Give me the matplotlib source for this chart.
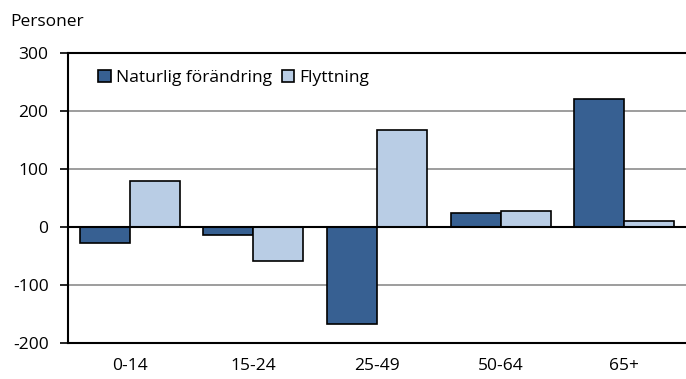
#!/usr/bin/env python3
"""Befolkningsförändring per åldersgrupp: naturlig förändring och flyttning."""

import matplotlib
matplotlib.use("Agg")
import matplotlib.pyplot as plt
import numpy as np

AGE_GROUPS = ["0-14", "15-24", "25-49", "50-64", "65+"]
NATURAL_CHANGE = [-27, -14, -167, 25, 220]
MIGRATION = [79, -58, 168, 28, 10]
SERIES_NAMES = ["Naturlig förändring", "Flyttning"]
Y_TICKS = [-200, -100, 0, 100, 200, 300]

DARK = "#376092"
LIGHT = "#B9CDE5"

plt.rcParams["font.family"] = ["Open Sans", "DejaVu Sans"]
plt.rcParams["axes.unicode_minus"] = False

FS = 12.5

fig = plt.figure(figsize=(6.86, 3.79), dpi=100)
ax = fig.add_axes([68 / 686, 1 - 343 / 379, 618 / 686, 290 / 379])

x = np.arange(len(AGE_GROUPS))
w = 0.405
ax.bar(x - w / 2, NATURAL_CHANGE, w, color=DARK, edgecolor="black",
       linewidth=1.2, label=SERIES_NAMES[0], zorder=3)
ax.bar(x + w / 2, MIGRATION, w, color=LIGHT, edgecolor="black",
       linewidth=1.2, label=SERIES_NAMES[1], zorder=3)

ax.set_xlim(-0.5, len(AGE_GROUPS) - 0.5)
ax.set_ylim(-200, 300)
ax.set_yticks(Y_TICKS)
ax.set_xticks(x)
ax.set_xticklabels(AGE_GROUPS)
ax.tick_params(axis="x", length=0, pad=11, labelsize=FS)
ax.tick_params(axis="y", length=6, width=1.2, direction="out", pad=8,
               labelsize=FS)

for v in [-100, 100, 200]:
    ax.axhline(v, color="#8c8c8c", linewidth=1.2, zorder=1)
ax.axhline(0, color="black", linewidth=1.5, zorder=4)
ax.axhline(300, color="black", linewidth=1.5, zorder=4, clip_on=False)

for side in ["top", "right"]:
    ax.spines[side].set_visible(False)
ax.spines["left"].set_linewidth(1.5)
ax.spines["bottom"].set_linewidth(1.5)

fig.text(10 / 686, 1 - 22 / 379, "Personer", fontsize=FS, va="center")

ax.legend(loc="upper left", bbox_to_anchor=(0.038, 0.965), ncol=2,
          frameon=False, fontsize=FS, handlelength=0.7, handleheight=0.7,
          handletextpad=0.3, columnspacing=0.6, borderaxespad=0)

fig.savefig("out.png", dpi=100)
